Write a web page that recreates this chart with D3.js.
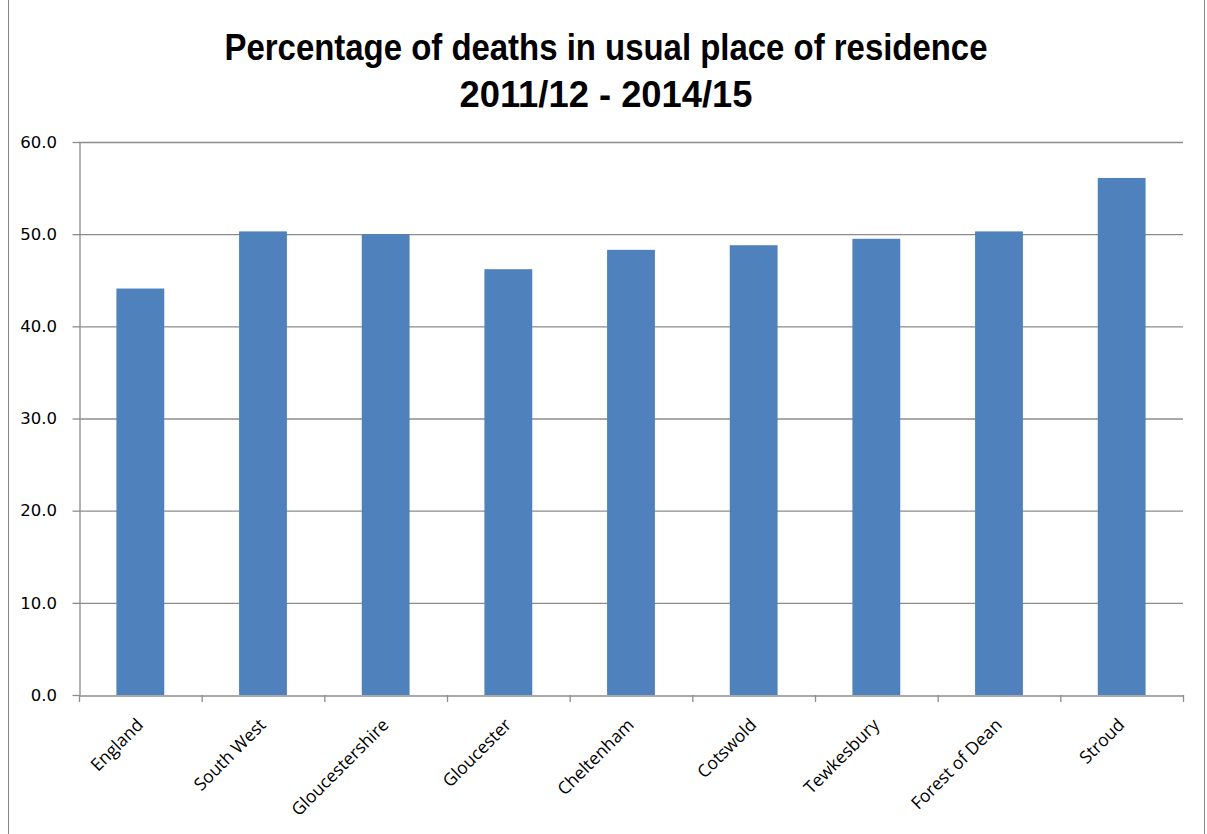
<!DOCTYPE html>
<html><head><meta charset="utf-8">
<script src="https://cdn.jsdelivr.net/npm/d3@7"></script>
<style>body{margin:0;background:#fff}svg{display:block}</style>
</head><body>
<svg id="c" width="1207" height="834"></svg>
<script>
const categories = ["England","South West","Gloucestershire","Gloucester","Cheltenham","Cotswold","Tewkesbury","Forest of Dean","Stroud"];
const values = [44.1, 50.3, 50.0, 46.2, 48.3, 48.8, 49.5, 50.3, 56.1];
const yTicks = [0,10,20,30,40,50,60];
const titleLines = ["Percentage of deaths in usual place of residence","2011/12 - 2014/15"];
const titleWidths = [763, 293];

(function(){
const svg = d3.select("#c");
svg.append("rect").attr("x",8.5).attr("y",-1).attr("width",1196).attr("height",836)
  .attr("fill","#fff").attr("stroke","#868686").attr("stroke-width",1);

const pL=79, pR=1183, pT=142, pB=695;
const x = d3.scaleBand().domain(categories).range([pL,pR]).paddingInner(0.61).paddingOuter(0.305);
const xb = d3.scaleBand().domain(categories).range([pL,pR]);
const y = d3.scaleLinear().domain([0,60]).range([pB,pT]);

// gridlines
svg.append("g").selectAll("line").data(yTicks.filter(d=>d>0)).join("line")
  .attr("x1",pL).attr("x2",pR).attr("y1",d=>y(d)+0.5).attr("y2",d=>y(d)+0.5)
  .attr("stroke","#8c8c8c").attr("stroke-width",1.3);

// bars
svg.append("g").selectAll("rect").data(values).join("rect")
  .attr("x",(d,i)=>x(categories[i])).attr("width",x.bandwidth())
  .attr("y",d=>y(d)).attr("height",d=>y(0)-y(d)).attr("fill","#4F81BD");

// y axis
const ya = svg.append("g").attr("transform",`translate(${pL+0.5},0)`)
  .call(d3.axisLeft(y).tickValues(yTicks).tickFormat(d3.format(".1f")).tickSize(7).tickSizeOuter(0));
ya.select(".domain").attr("stroke","#8c8c8c").attr("stroke-width",1.3);
ya.selectAll(".tick line").attr("stroke","#8c8c8c").attr("stroke-width",1.3);
ya.selectAll("text").attr("font-family","DejaVu Sans").attr("font-size",16.5).attr("fill","#000").attr("x",-22.5).attr("dy","0.32em");

// x axis
const xa = svg.append("g").attr("transform",`translate(0,${pB+0.5})`)
  .call(d3.axisBottom(xb).tickSize(0).tickFormat(""));
xa.select(".domain").attr("stroke","#8c8c8c").attr("stroke-width",1.3);
const bounds = categories.map(c=>xb(c)).concat([pR]);
svg.append("g").selectAll("line").data(bounds).join("line")
  .attr("x1",d=>d+0.5).attr("x2",d=>d+0.5).attr("y1",pB).attr("y2",pB+7)
  .attr("stroke","#8c8c8c").attr("stroke-width",1.3);
svg.append("g").selectAll("text").data(categories).join("text")
  .attr("transform",d=>`translate(${xb(d)+xb.bandwidth()/2+4},${pB+31}) rotate(-45)`)
  .attr("text-anchor","end").attr("font-family","Open Sans").attr("font-size",17.5).attr("fill","#000")
  .text(d=>d);

// title
svg.append("g").selectAll("text").data(titleLines).join("text")
  .attr("x",606).attr("y",(d,i)=>60+i*47).attr("text-anchor","middle")
  .attr("font-family","Liberation Sans, Arial").attr("font-weight","bold")
  .attr("font-size",36).attr("textLength",(d,i)=>titleWidths[i]).attr("lengthAdjust","spacingAndGlyphs")
  .attr("fill","#000").text(d=>d);
})();
</script>
</body></html>
